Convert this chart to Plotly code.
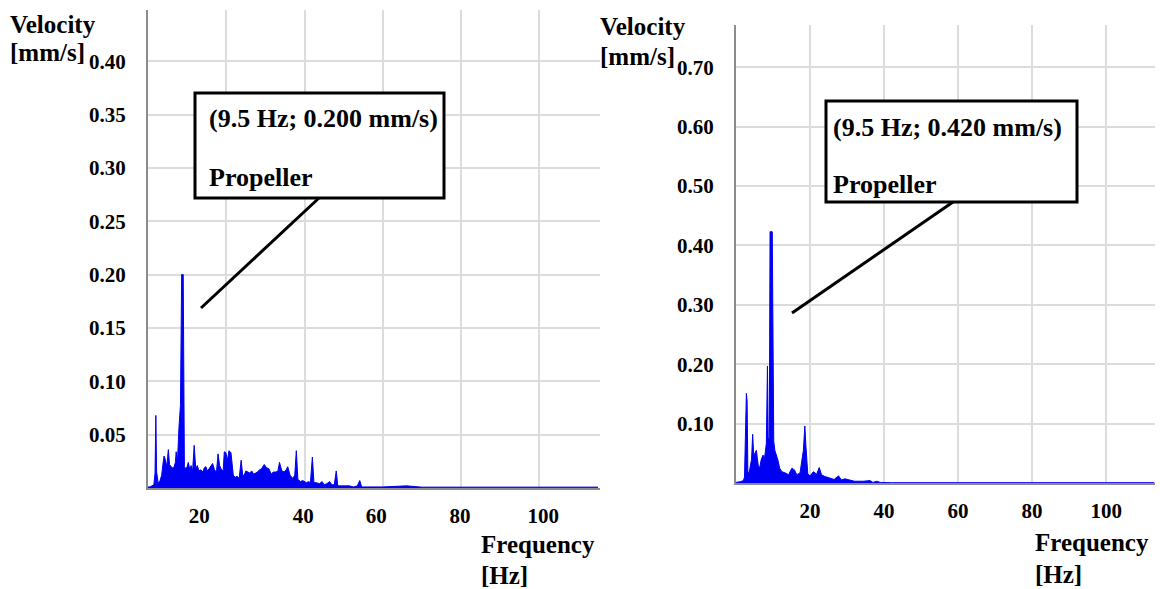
import plotly.graph_objects as go

W, H = 1160, 589

# ---------------- data ----------------
freq_left = [0.0, 0.5, 1.0, 1.5, 1.8, 2.0, 2.2, 2.6, 3.0, 3.5, 3.8, 4.1, 4.4, 4.8, 5.2, 5.5, 5.9, 6.2, 6.6,
             7.0, 7.2, 7.5, 7.9, 8.3, 8.6, 9.0, 9.3, 9.7, 10.0, 10.3, 10.7, 11.0, 11.4, 11.8, 12.2, 12.6,
             13.0, 13.5, 14.0, 14.4, 14.8, 15.2, 15.6, 16.0, 16.5, 17.0, 17.5, 17.9, 18.3, 18.8, 19.2,
             19.5, 19.9, 20.3, 20.7, 21.2, 21.5, 21.8, 22.3, 22.8, 23.3, 23.8, 24.2, 24.6, 25.0, 25.5,
             26.0, 26.5, 27.0, 27.5, 28.0, 28.5, 29.0, 29.7, 30.3, 30.9, 31.5, 32.0, 32.7, 33.2, 33.6,
             34.2, 34.8, 35.3, 35.7, 36.3, 37.0, 37.5, 37.9, 38.3, 39.0, 39.5, 40.0, 40.5, 41.0, 41.5,
             42.0, 42.4, 43.0, 43.8, 44.5, 45.0, 45.7, 46.4, 47.0, 47.6, 48.1, 48.5, 49.5, 50.5, 51.5,
             52.5, 53.5, 54.1, 54.6, 56.0, 60.0, 66.1, 70.0, 80.0, 90.0, 100.0, 110.0, 115.0]
vel_left = [0.001, 0.001, 0.002, 0.003, 0.014, 0.068, 0.015, 0.005, 0.006, 0.012, 0.022, 0.030, 0.027, 0.020,
            0.036, 0.022, 0.020, 0.019, 0.019, 0.024, 0.034, 0.022, 0.056, 0.078, 0.200, 0.200, 0.020, 0.018,
            0.020, 0.024, 0.017, 0.021, 0.016, 0.040, 0.018, 0.021, 0.016, 0.017, 0.015, 0.019, 0.020, 0.016,
            0.018, 0.020, 0.023, 0.017, 0.015, 0.032, 0.021, 0.017, 0.016, 0.034, 0.033, 0.026, 0.035, 0.033,
            0.021, 0.012, 0.010, 0.011, 0.009, 0.026, 0.012, 0.012, 0.016, 0.015, 0.014, 0.016, 0.013, 0.014,
            0.015, 0.017, 0.018, 0.022, 0.019, 0.018, 0.013, 0.015, 0.015, 0.016, 0.024, 0.016, 0.015, 0.017,
            0.020, 0.012, 0.009, 0.012, 0.035, 0.008, 0.006, 0.007, 0.006, 0.005, 0.006, 0.005, 0.029, 0.005,
            0.005, 0.004, 0.006, 0.003, 0.004, 0.006, 0.003, 0.003, 0.016, 0.002, 0.002, 0.002, 0.002, 0.001,
            0.002, 0.007, 0.001, 0.001, 0.001, 0.002, 0.0008, 0.0008, 0.0008, 0.0008, 0.0008, 0.0008]

freq_right = [0.0, 0.5, 1.0, 1.5, 2.0, 2.3, 2.6, 2.8, 3.0, 3.2, 3.5, 3.8, 4.2, 4.5, 4.8, 5.1, 5.5, 6.0, 6.4,
              6.8, 7.3, 7.7, 8.2, 8.5, 8.7, 9.0, 9.2, 9.8, 10.2, 10.5, 10.8, 11.3, 11.8, 12.4, 13.3, 14.2,
              15.1, 15.8, 16.4, 17.3, 18.2, 18.6, 18.9, 19.4, 20.0, 20.9, 21.4, 21.6, 22.5, 23.1, 24.0,
              25.4, 26.5, 27.7, 28.5, 29.4, 30.8, 32.0, 34.4, 36.2, 37.0, 38.0, 39.0, 42.0, 60.0, 80.0,
              100.0, 113.0]
vel_right = [0.001, 0.001, 0.002, 0.003, 0.004, 0.010, 0.151, 0.151, 0.138, 0.020, 0.015, 0.027, 0.040, 0.082,
             0.045, 0.050, 0.055, 0.030, 0.025, 0.039, 0.047, 0.041, 0.067, 0.197, 0.075, 0.075, 0.423, 0.423,
             0.070, 0.055, 0.050, 0.039, 0.025, 0.019, 0.017, 0.014, 0.025, 0.022, 0.014, 0.017, 0.055, 0.096,
             0.061, 0.015, 0.012, 0.019, 0.017, 0.012, 0.026, 0.014, 0.011, 0.008, 0.006, 0.012, 0.005, 0.007,
             0.005, 0.003, 0.003, 0.004, 0.001, 0.003, 0.001, 0.0005, 0.0005, 0.0005, 0.0005, 0.0005]

ytick_left = [0.05, 0.10, 0.15, 0.20, 0.25, 0.30, 0.35, 0.40]
ytick_right = [0.10, 0.20, 0.30, 0.40, 0.50, 0.60, 0.70]
xgrid = [20, 40, 60, 80, 100]
xlabel_pos_left = [13.1, 39.7, 58.3, 79.7, 101.0]
xlabel_text = ["20", "40", "60", "80", "100"]

note_left = ["(9.5 Hz; 0.200 mm/s)", "Propeller"]
note_right = ["(9.5 Hz; 0.420 mm/s)", "Propeller"]

# ---------------- helpers ----------------
def px(x):
    return x / W

def py(y):
    return 1 - y / H

FONT = "Liberation Serif"
BLUE = "#0000f5"
GRID = "#dcdcdc"
AXIS = "#8c8c8c"

fig = go.Figure()
fig.add_trace(go.Scatter(x=freq_left, y=vel_left, mode="lines", line=dict(color=BLUE, width=1),
                         fill="tozeroy", fillcolor=BLUE, xaxis="x", yaxis="y", showlegend=False,
                         hoverinfo="skip"))
fig.add_trace(go.Scatter(x=freq_right, y=vel_right, mode="lines", line=dict(color=BLUE, width=1),
                         fill="tozeroy", fillcolor=BLUE, xaxis="x2", yaxis="y2", showlegend=False,
                         hoverinfo="skip"))

tickfont = dict(family=FONT, size=21, color="black")

fig.update_layout(
    width=W, height=H, margin=dict(l=0, r=0, t=0, b=0),
    paper_bgcolor="white", plot_bgcolor="white",
    xaxis=dict(domain=[px(148), px(600)], range=[0, 115.5], anchor="y",
               tickvals=xlabel_pos_left, ticktext=[f"<b>{t}</b>" for t in xlabel_text],
               showgrid=False, zeroline=False, showline=True, linecolor=AXIS, linewidth=2,
               ticks="", ticklabelstandoff=8, tickfont=tickfont,
               minor=dict(tickvals=xgrid, showgrid=True, gridcolor=GRID, gridwidth=2, ticks="")),
    yaxis=dict(domain=[py(488), py(10)], range=[0, 0.448], anchor="x",
               tickvals=ytick_left, ticktext=[f"<b>{v:.2f}</b>" for v in ytick_left],
               showgrid=True, gridcolor=GRID, gridwidth=2, zeroline=False,
               showline=True, linecolor=AXIS, linewidth=2, ticks="", ticklabelstandoff=16,
               tickfont=tickfont),
    xaxis2=dict(domain=[px(736), px(1155)], range=[0, 113.2], anchor="y2",
                tickvals=xgrid, ticktext=[f"<b>{t}</b>" for t in xlabel_text],
                showgrid=True, gridcolor=GRID, gridwidth=2, zeroline=False,
                showline=True, linecolor=AXIS, linewidth=2, ticks="", ticklabelstandoff=8,
                tickfont=tickfont),
    yaxis2=dict(domain=[py(483), py(25)], range=[0, 0.771], anchor="x2",
                tickvals=ytick_right, ticktext=[f"<b>{v:.2f}</b>" for v in ytick_right],
                showgrid=True, gridcolor=GRID, gridwidth=2, zeroline=False,
                showline=True, linecolor=AXIS, linewidth=2, ticks="", ticklabelstandoff=16,
                tickfont=tickfont),
)

labfont = dict(family=FONT, size=25, color="black")
notefont = dict(family=FONT, size=26, color="black")

def label(text, x, y, font=labfont):
    fig.add_annotation(text=f"<b>{text}</b>", x=px(x), y=py(y), xref="paper", yref="paper",
                       xanchor="left", yanchor="middle", showarrow=False, font=font)

label("Velocity", 8, 25)
label("[mm/s]", 8, 53)
label("Velocity", 598, 27)
label("[mm/s]", 598, 56)
label("Frequency", 479, 544)
label("[Hz]", 479, 575)
label("Frequency", 1033, 542)
label("[Hz]", 1033, 574)

# annotation boxes
for (x0, y0, x1, y1, lx0, ly0, lx1, ly1, tx, t1y, t2y, texts) in [
    (195, 93, 444, 198, 319, 198, 201, 308, 207, 118, 177, note_left),
    (826, 101, 1077, 202, 953, 202, 792, 313, 831, 127, 184, note_right),
]:
    fig.add_shape(type="rect", xref="paper", yref="paper", x0=px(x0), x1=px(x1), y0=py(y0), y1=py(y1),
                  line=dict(color="black", width=3), fillcolor="white", layer="above")
    fig.add_shape(type="line", xref="paper", yref="paper", x0=px(lx0), y0=py(ly0), x1=px(lx1), y1=py(ly1),
                  line=dict(color="black", width=3), layer="above")
    label(texts[0], tx, t1y, notefont)
    label(texts[1], tx, t2y, notefont)

fig.write_html("out.html")
